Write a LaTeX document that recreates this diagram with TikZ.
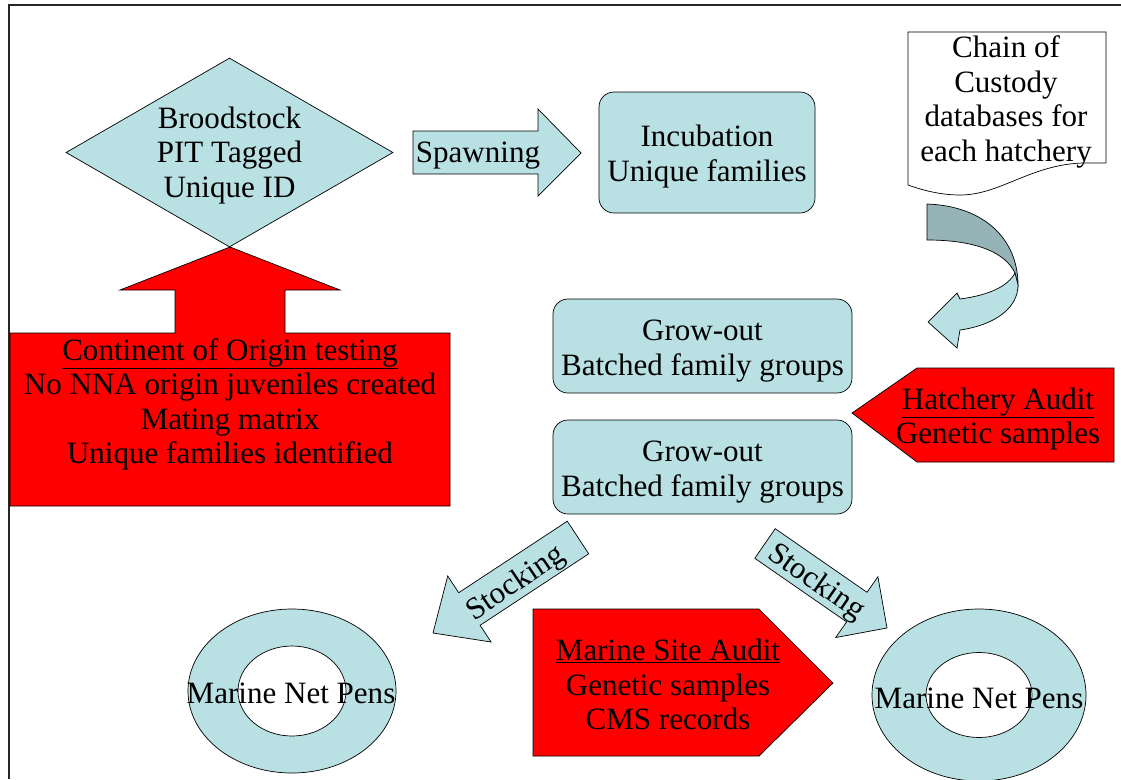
\documentclass[tikz,border=0pt]{standalone}
\usepackage{fontspec}
\setmainfont{Liberation Serif}
\usepackage{tikz}
\usetikzlibrary{shapes.geometric}

\definecolor{paleblue}{RGB}{185,224,227}
\definecolor{tealgray}{RGB}{150,179,183}

\begin{document}
\begin{tikzpicture}[x=0.03cm, y=-0.03cm, line width=0.6pt,
  txt/.style = {font=\fontsize{26.5}{29.5}\selectfont, align=center, inner sep=0},
  box/.style = {draw, fill=paleblue, rounded corners=0.45cm, inner sep=0},
  blockarrow/.style = {draw, fill=paleblue, line join=miter},
  audit/.style = {draw, fill=red, line join=miter},
  ring/.style = {draw, ellipse, inner sep=0}]
\useasboundingbox (0,0) rectangle (1121,779);
% frame
\draw[line width=1.2pt, black!85] (9,779) -- (9,5) -- (1121,5);

% broodstock
\node[draw, diamond, fill=paleblue, inner sep=0, minimum width=9.81cm, minimum height=5.67cm] (brood) at (229.5,152.5) {};
\node[txt] (broodtxt) at (229.5,155.5) {Broodstock\\PIT Tagged\\Unique ID};

% continent of origin arrow
\draw[audit] (10,333) -- (175,333) -- (175,290) -- (120,290) -- (230,247) -- (340,290)
  -- (285,290) -- (285,333) -- (450,333) -- (450,506) -- (10,506) -- cycle;
\node[txt] (continent) at (230,404.5) {\underline{Continent of Origin testing}\\No NNA origin juveniles created\\Mating matrix\\Unique families identified};

% spawning
\draw[blockarrow] (413,131) -- (538,131) -- (538,109) -- (581,153) -- (538,196) -- (538,174) -- (413,174) -- cycle;
\node[txt] (spawn) at (478,156) {Spawning};

\node[box, minimum width=6.48cm, minimum height=3.63cm] (incub) at (707,152.5) {};
\node[txt] (incubtxt) at (707,156.5) {Incubation\\Unique families};

% chain of custody
\draw[fill=white] (908,32) -- (1106,32) -- (1106,163) -- (1082,163)
  .. controls (1030,165) and (1000,195) .. (960,195)
  .. controls (940,195) and (922,190) .. (908,185) -- cycle;
\node[txt] (chain) at (1006,102) {Chain of\\Custody\\databases for\\each hatchery};

% curved arrow
\draw[fill=tealgray] (927,204) .. controls (985,206) and (1018,240) .. (1018,285)
  -- (1015,273) .. controls (1005,252) and (975,240) .. (927,240) -- cycle;
\draw[blockarrow] (1015,273) .. controls (1008,286) and (990,295) .. (960,299)
  -- (957,293) -- (928,322) -- (957,348) -- (960,330)
  .. controls (995,325) and (1018,308) .. (1018,285) -- cycle;

\node[box, minimum width=8.97cm, minimum height=2.82cm] (grow1) at (702.5,346) {};
\node[txt] (grow1txt) at (702.5,351) {Grow-out\\Batched family groups};
\node[box, minimum width=8.97cm, minimum height=2.82cm] (grow2) at (702.5,467) {};
\node[txt] (grow2txt) at (702.5,472) {Grow-out\\Batched family groups};

% hatchery audit
\draw[audit] (852,413) -- (917,368) -- (1114,368) -- (1114,462) -- (917,462) -- cycle;
\node[txt] (hatch) at (998,419) {\underline{Hatchery Audit}\\Genetic samples};

% stocking arrows
\draw[blockarrow] (567.3,521.2) -- (588.7,553.8) -- (480.1,625.3) -- (491.1,642) -- (433,633)
  -- (447.7,576) -- (458.7,592.7) -- cycle;
\node[txt, rotate=34] (stockL) at (516,584) {Stocking};
\draw[blockarrow] (775.2,528.7) -- (867.0,592.3) -- (877.9,576.7) -- (887,628) -- (835.7,637.5)
  -- (846.6,621.9) -- (754.8,558.3) -- cycle;
\node[txt, rotate=-35] (stockR) at (816,583) {Stocking};

% marine site audit
\draw[audit] (533,609) -- (759,609) -- (833,683) -- (759,756) -- (533,756) -- cycle;
\node[txt] (marine) at (668,684.5) {\underline{Marine Site Audit}\\Genetic samples\\CMS records};

% net pens
\node[ring, fill=paleblue, minimum width=6.24cm, minimum height=4.92cm] (penL) at (292,691) {};
\node[ring, fill=white, minimum width=3.24cm, minimum height=2.7cm] (penLin) at (penL.center) {};
\node[txt] (penLtxt) at (291,693) {Marine Net Pens};
\node[ring, fill=paleblue, minimum width=6.42cm, minimum height=5.16cm] (penR) at (979,695) {};
\node[ring, fill=white, minimum width=3.18cm, minimum height=2.55cm] (penRin) at (penR.center) {};
\node[txt] (penRtxt) at (979,698) {Marine Net Pens};
\end{tikzpicture}
\end{document}
